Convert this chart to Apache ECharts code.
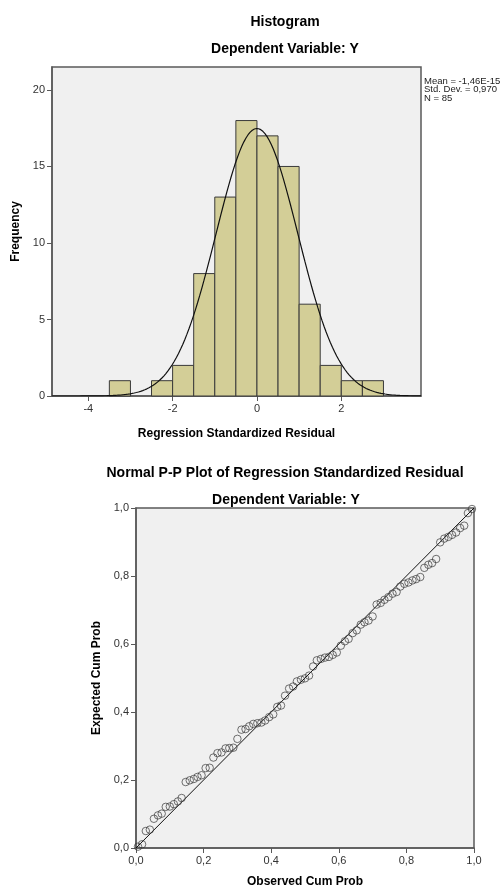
<!DOCTYPE html>
<html><head><meta charset="utf-8">
<script src="https://cdn.jsdelivr.net/npm/echarts@6/dist/echarts.min.js"></script>
<style>html,body{margin:0;padding:0;background:#fff}#c{width:504px;height:890px}</style>
</head><body><div id="c"></div>
<script>
// Histogram data
const binStarts = [-3.5,-3.0,-2.5,-2.0,-1.5,-1.0,-0.5,0.0,0.5,1.0,1.5,2.0,2.5];
const binCounts = [1,0,1,2,8,13,18,17,15,6,2,1,1];
const binWidth = 0.5;
const histXTicks = [-4,-2,0,2];
const histYTicks = [0,5,10,15,20];
const statMean = -1.46e-15;
const statSd = 0.970;
const statN = 85;
const statLines = ['Mean = -1,46E-15','Std. Dev. = 0,970','N = 85'];

// P-P plot data
const ppObserved = [.006,.018,.029,.041,.053,.065,.076,.088,.100,.112,.124,.135,.147,.159,.171,.182,.194,.206,.218,.229,.241,.253,.265,.276,.288,.300,.312,.324,.335,.347,.359,.371,.382,.394,.406,.418,.429,.441,.453,.465,.476,.488,.500,.512,.524,.535,.547,.559,.571,.582,.594,.606,.618,.629,.641,.653,.665,.676,.688,.700,.712,.724,.735,.747,.759,.771,.782,.794,.806,.818,.829,.841,.853,.865,.876,.888,.900,.912,.924,.935,.947,.959,.971,.982,.994];
const ppExpected = [.004,.011,.050,.054,.086,.096,.101,.121,.122,.129,.137,.147,.194,.199,.203,.209,.214,.235,.236,.266,.279,.281,.293,.294,.295,.321,.348,.350,.358,.365,.367,.369,.375,.385,.393,.415,.419,.448,.469,.475,.490,.495,.499,.507,.534,.552,.556,.560,.562,.568,.575,.595,.608,.615,.632,.640,.657,.664,.669,.681,.716,.721,.730,.738,.748,.753,.769,.777,.781,.787,.791,.797,.824,.833,.838,.850,.899,.910,.915,.921,.928,.941,.948,.985,.997];

const histXMin = -4.86, histXMax = 3.89, histYMax = 21.5;

// normal curve from stated parameters
const curve = [];
for (let x = histXMin; x <= histXMax + 1e-9; x += 0.05) {
  const z = (x - statMean) / statSd;
  curve.push([x, statN * binWidth * Math.exp(-0.5*z*z) / (statSd*Math.sqrt(2*Math.PI))]);
}
const histData = binStarts.map((s,i)=>[s, s+binWidth, binCounts[i]]).filter(d=>d[2]>0);
const ppPoints = ppObserved.map((x,i)=>[x, ppExpected[i]]);

const FONT = 'Liberation Sans, Arial, sans-serif';
const frame = '#595959';
const comma = v => v.toFixed(1).replace('.', ',');

const chart = echarts.init(document.getElementById('c'), null, {renderer:'canvas'});
chart.setOption({
  animation:false,
  backgroundColor:'#fff',
  textStyle:{fontFamily:FONT},
  title:[
    {text:'Histogram', left:280, top:10, textAlign:'center', textStyle:{fontSize:14, fontWeight:'bold', color:'#000', fontFamily:FONT}},
    {text:'Dependent Variable: Y', left:280, top:37, textAlign:'center', textStyle:{fontSize:14, fontWeight:'bold', color:'#000', fontFamily:FONT}},
    {text:'Normal P-P Plot of Regression Standardized Residual', left:280, top:461, textAlign:'center', textStyle:{fontSize:14, fontWeight:'bold', color:'#000', fontFamily:FONT}},
    {text:'Dependent Variable: Y', left:281, top:488, textAlign:'center', textStyle:{fontSize:14, fontWeight:'bold', color:'#000', fontFamily:FONT}}
  ],
  grid:[
    {left:52, top:67, width:369, height:329, show:true, backgroundColor:'#F0F0F0', borderColor:frame, borderWidth:1.5},
    {left:136, top:508, width:338, height:340, show:true, backgroundColor:'#F0F0F0', borderColor:frame, borderWidth:1.5}
  ],
  xAxis:[
    {gridIndex:0, type:'value', min:histXMin, max:histXMax,
     name:'Regression Standardized Residual', nameLocation:'middle', nameGap:32,
     nameTextStyle:{fontSize:12, fontWeight:'bold', color:'#000', fontFamily:FONT},
     axisLine:{show:true, onZero:false, lineStyle:{color:frame, width:1.5}},
     axisTick:{show:true, length:5, customValues:histXTicks, lineStyle:{color:frame}},
     axisLabel:{customValues:histXTicks, fontSize:11, color:'#333', margin:7, fontFamily:FONT},
     splitLine:{show:false}},
    {gridIndex:1, type:'value', min:0, max:1, interval:0.2,
     name:'Observed Cum Prob', nameLocation:'middle', nameGap:28,
     nameTextStyle:{fontSize:12, fontWeight:'bold', color:'#000', fontFamily:FONT},
     axisLine:{show:true, onZero:false, lineStyle:{color:frame, width:1.5}},
     axisTick:{show:true, length:5, lineStyle:{color:frame}},
     axisLabel:{formatter:comma, fontSize:11, color:'#333', margin:7, fontFamily:FONT},
     splitLine:{show:false}}
  ],
  yAxis:[
    {gridIndex:0, type:'value', min:0, max:histYMax,
     name:'Frequency', nameLocation:'middle', nameGap:27, nameRotate:90,
     nameTextStyle:{fontSize:12, fontWeight:'bold', color:'#000', fontFamily:FONT},
     axisLine:{show:true, onZero:false, lineStyle:{color:frame, width:1.5}},
     axisTick:{show:true, length:5, customValues:histYTicks, lineStyle:{color:frame}},
     axisLabel:{customValues:histYTicks, fontSize:11, color:'#333', margin:7, fontFamily:FONT},
     splitLine:{show:false}},
    {gridIndex:1, type:'value', min:0, max:1, interval:0.2,
     name:'Expected Cum Prob', nameLocation:'middle', nameGap:27, nameRotate:90,
     nameTextStyle:{fontSize:12, fontWeight:'bold', color:'#000', fontFamily:FONT},
     axisLine:{show:true, onZero:false, lineStyle:{color:frame, width:1.5}},
     axisTick:{show:true, length:5, lineStyle:{color:frame}},
     axisLabel:{formatter:comma, fontSize:11, color:'#333', margin:7, fontFamily:FONT},
     splitLine:{show:false}}
  ],
  graphic:[
    {type:'text', left:424, top:76, style:{text:statLines.join('\n'), fontSize:9.5, lineHeight:8.6, fill:'#222', fontFamily:FONT}}
  ],
  series:[
    {type:'custom', xAxisIndex:0, yAxisIndex:0, data:histData, encode:{x:[0,1], y:2},
     renderItem:function(params, api){
       const p0 = api.coord([api.value(0), 0]);
       const p1 = api.coord([api.value(1), api.value(2)]);
       return {type:'rect', shape:{x:p0[0], y:p1[1], width:p1[0]-p0[0], height:p0[1]-p1[1]},
               style:{fill:'#D3CE97', stroke:'#3a3a3a', lineWidth:1}};
     }, z:2},
    {type:'line', xAxisIndex:0, yAxisIndex:0, data:curve, showSymbol:false, smooth:false,
     lineStyle:{color:'#111', width:1.2}, z:3},
    {type:'line', xAxisIndex:1, yAxisIndex:1, data:[[0,0],[1,1]], showSymbol:false,
     lineStyle:{color:'#111', width:1}, z:2},
    {type:'scatter', xAxisIndex:1, yAxisIndex:1, data:ppPoints, symbol:'circle', symbolSize:7.5,
     itemStyle:{color:'rgba(0,0,0,0)', borderColor:'#3a3a3a', borderWidth:0.9}, z:3}
  ]
});
</script></body></html>
